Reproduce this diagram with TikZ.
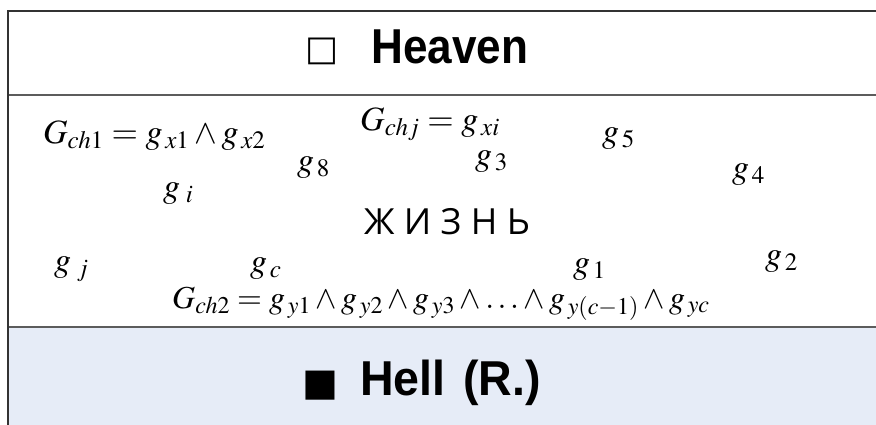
\documentclass[tikz,border=0pt]{standalone}
\usepackage{mathptmx}
\usepackage[no-math]{fontspec}
\setmainfont{Liberation Serif}
\newfontfamily\hvfont[FakeStretch=0.9]{Liberation Sans}
\newfontfamily\hlfont[FakeStretch=0.95]{Liberation Sans}
\newfontfamily\sqfont{DejaVu Sans}
\newfontfamily\cyrfont{Open Sans}
\DeclareMathSizes{34}{34}{25}{19}
\DeclareMathSizes{32}{32}{24}{18}
\definecolor{hellfill}{HTML}{E6ECF7}
\definecolor{linegray}{HTML}{333333}
\newcommand{\gs}[1]{g_{\mkern2mu #1}}
\tikzset{
  border/.style={draw=linegray, line width=1.6pt},
  sepline/.style={draw=linegray!80, line width=1.4pt},
  titletext/.style={inner sep=0pt, font=\hvfont\fontsize{49}{52}\selectfont\bfseries},
  helltext/.style={inner sep=0pt, font=\hlfont\fontsize{49}{52}\selectfont\bfseries},
  mtext/.style={inner sep=0pt, font=\fontsize{34}{36}\selectfont},
  msmall/.style={inner sep=0pt, font=\fontsize{32}{34}\selectfont},
  lifetext/.style={inner sep=0pt, font=\cyrfont\fontsize{36}{40}\selectfont}
}
\begin{document}
\begin{tikzpicture}[x=1pt,y=-1pt]
\useasboundingbox (0,0) rectangle (876,424);
\fill[hellfill] (8,327) rectangle (880,430);
\draw[sepline] (8,95) -- (880,95);
\draw[sepline] (8,327) -- (880,327);
\draw[border] (8,430) -- (8,11) -- (880,11);
% titles
\node[titletext, anchor=base west] (heaven) at (305,63) {\raisebox{2.5pt}{\sqfont\fontsize{35}{36}\selectfont □}\hspace{33pt}Heaven};
\node[helltext, anchor=base west] (hell) at (302,395) {{\sqfont\fontsize{38}{40}\selectfont ■}\hspace{22pt}Hell\hspace{18pt}(R.)};
% formulas
\node[mtext, anchor=base west] (gch1) at (43,143) {$G_{ch1}=\gs{x1}\wedge \gs{x2}$};
\node[mtext, anchor=base west] (gchj) at (360,130) {$G_{chj}=\gs{xi}$};
\node[mtext, anchor=base west] (g5) at (602,142) {$\gs{5}$};
\node[mtext, anchor=base west] (g8) at (297,171) {$\gs{8}$};
\node[mtext, anchor=base west] (g3) at (475,165) {$\gs{3}$};
\node[mtext, anchor=base west] (g4) at (732,178) {$\gs{4}$};
\node[mtext, anchor=base west] (gi) at (163,197) {$\gs{\,i}$};
\node[lifetext] (life) at (447,222) {Ж И З Н Ь};
\node[mtext, anchor=base west] (gj) at (54,271) {$\gs{\,j}$};
\node[mtext, anchor=base west] (gc) at (250,272) {$\gs{c}$};
\node[mtext, anchor=base west] (g1) at (573,273) {$\gs{1}$};
\node[mtext, anchor=base west] (g2) at (765,265) {$\gs{2}$};
\node[msmall, anchor=base west] (gch2) at (172,308) {$G_{ch2}=\gs{y1}\wedge \gs{y2}\wedge \gs{y3}\wedge\ldots\wedge \gs{y(c-1)}\wedge \gs{yc}$};
\end{tikzpicture}
\end{document}
